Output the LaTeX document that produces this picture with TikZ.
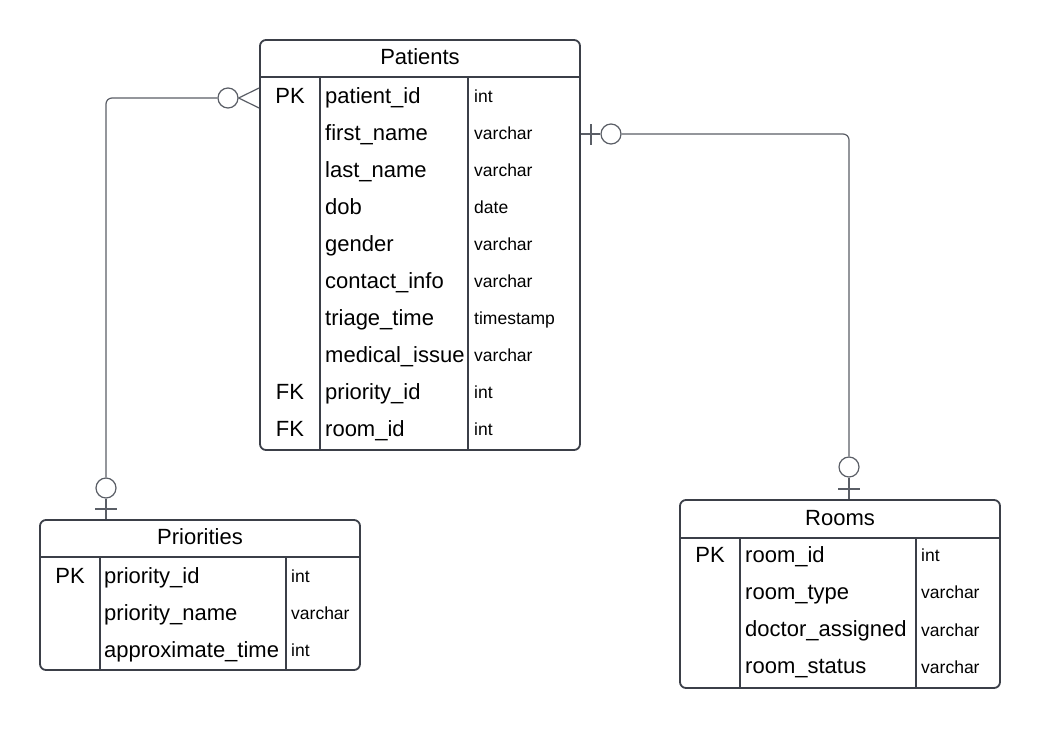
\documentclass[tikz,border=0pt]{standalone}
\usepackage{fontspec}
\setmainfont{Liberation Sans}
\definecolor{tb}{HTML}{3B3F48}
\definecolor{cn}{HTML}{5A5E66}
\begin{document}
\begin{tikzpicture}[x=1pt,y=-1pt,
  tbl/.style={draw=tb, line width=1.8pt, rounded corners=6pt, inner sep=0pt},
  sep/.style={draw=tb, line width=1.8pt},
  conn/.style={draw=cn, line width=1.2pt},
  hdr/.style={anchor=base, inner sep=0pt, font=\fontsize{22}{26}\selectfont},
  key/.style={anchor=base, inner sep=0pt, font=\fontsize{22}{26}\selectfont},
  fld/.style={anchor=base west, inner sep=0pt, font=\fontsize{22}{26}\selectfont},
  typ/.style={anchor=base west, inner sep=0pt, font=\fontsize{17.5}{21}\selectfont}]
\useasboundingbox (0,0) rectangle (1040,728);
% ---------- Patients ----------
\node[tbl, minimum width=320pt, minimum height=410pt] (patients) at (420,245) {};
\draw[sep] (260,77) -- (580,77);
\draw[sep] (320,77) -- (320,450);
\draw[sep] (468,77) -- (468,450);
\node[hdr] (ph) at (420,64) {Patients};
\foreach \n/\k/\f/\t [count=\i from 0] in {
  p0/PK/patient\_id/int, p1//first\_name/varchar, p2//last\_name/varchar,
  p3//dob/date, p4//gender/varchar, p5//contact\_info/varchar,
  p6//triage\_time/timestamp, p7//medical\_issue/varchar,
  p8/FK/priority\_id/int, p9/FK/room\_id/int}{
  \pgfmathsetmacro{\yy}{103+37*\i}
  \node[key] (\n k) at (290,\yy) {\k};
  \node[fld] (\n f) at (325,\yy) {\f};
  \node[typ] (\n t) at (474,\yy-0.5) {\t};
}
% ---------- Priorities ----------
\node[tbl, minimum width=320pt, minimum height=150pt] (priorities) at (200,595) {};
\draw[sep] (40,557) -- (360,557);
\draw[sep] (100,557) -- (100,670);
\draw[sep] (286,557) -- (286,670);
\node[hdr] (prh) at (200,544) {Priorities};
\foreach \n/\k/\f/\t [count=\i from 0] in {
  q0/PK/priority\_id/int, q1//priority\_name/varchar, q2//approximate\_time/int}{
  \pgfmathsetmacro{\yy}{583+37*\i}
  \node[key] (\n k) at (70,\yy) {\k};
  \node[fld] (\n f) at (104,\yy) {\f};
  \node[typ] (\n t) at (291,\yy-0.5) {\t};
}
% ---------- Rooms ----------
\node[tbl, minimum width=320pt, minimum height=188pt] (rooms) at (840,594) {};
\draw[sep] (680,538) -- (1000,538);
\draw[sep] (740,538) -- (740,688);
\draw[sep] (916,538) -- (916,688);
\node[hdr] (rh) at (840,525) {Rooms};
\foreach \n/\k/\f/\t [count=\i from 0] in {
  r0/PK/room\_id/int, r1//room\_type/varchar, r2//doctor\_assigned/varchar,
  r3//room\_status/varchar}{
  \pgfmathsetmacro{\yy}{562+37.3*\i}
  \node[key] (\n k) at (710,\yy) {\k};
  \node[fld] (\n f) at (745,\yy) {\f};
  \node[typ] (\n t) at (921,\yy-0.5) {\t};
}
% ---------- Connector Patients -- Priorities ----------
\coordinate (a1) at (patients.west |- 0,98);
\coordinate (a2) at (priorities.north -| 106,0);
\node[conn, circle, minimum size=20pt, inner sep=0pt] (c1) at (228,98) {};
\node[conn, circle, minimum size=20pt, inner sep=0pt] (c2) at (106,488) {};
\draw[conn] (c1.east) -- ([yshift=-10pt]a1);
\draw[conn] (c1.east) -- ([yshift=10pt]a1);
\draw[conn, rounded corners=6pt] (c1.west) -- (106,98) -- (c2.north);
\draw[conn] (c2.south) -- (a2);
\draw[conn] (95,509) -- (117,509);
% ---------- Connector Patients -- Rooms ----------
\coordinate (b1) at (patients.east |- 0,134);
\coordinate (b2) at (rooms.north -| 849,0);
\node[conn, circle, minimum size=20pt, inner sep=0pt] (c3) at (611,134) {};
\node[conn, circle, minimum size=20pt, inner sep=0pt] (c4) at (849,467) {};
\draw[conn] (b1) -- (c3.west);
\draw[conn] (591,124) -- (591,145);
\draw[conn, rounded corners=6pt] (c3.east) -- (849,134) -- (c4.north);
\draw[conn] (c4.south) -- (b2);
\draw[conn] (838,489) -- (860,489);
\end{tikzpicture}
\end{document}
